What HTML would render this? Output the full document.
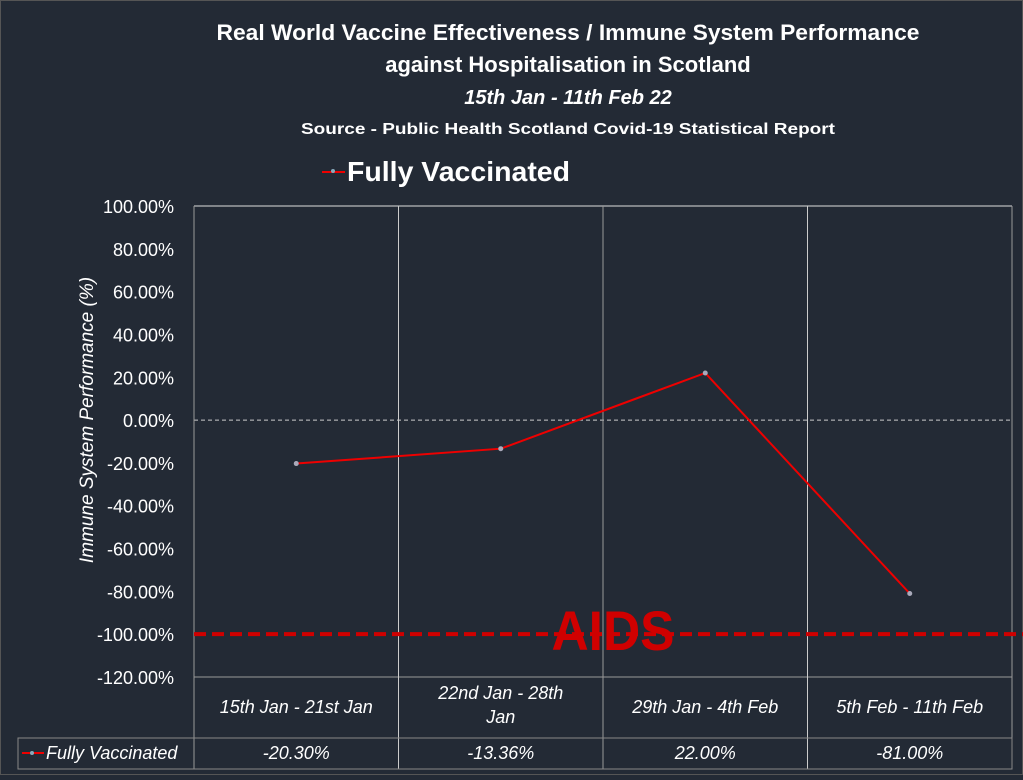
<!DOCTYPE html>
<html><head><meta charset="utf-8"><style>
body{margin:0;background:#232a35;}
svg text{font-family:"Liberation Sans",sans-serif;fill:#fff;}
</style></head><body>
<svg width="1023" height="775" id="c">
<rect x="0.5" y="0.5" width="1022" height="774" fill="#232a35" stroke="#555"/>
<g font-weight="bold" text-anchor="middle">
<text x="568" y="40" font-size="22" textLength="703" lengthAdjust="spacingAndGlyphs">Real World Vaccine Effectiveness / Immune System Performance</text>
<text x="568" y="72" font-size="22">against Hospitalisation in Scotland</text>
<text x="568" y="104" font-size="20" font-style="italic">15th Jan - 11th Feb 22</text>
<text x="568" y="134" font-size="16" textLength="534" lengthAdjust="spacingAndGlyphs">Source - Public Health Scotland Covid-19 Statistical Report</text>
</g>
<g>
<line x1="322" y1="172" x2="345" y2="172" stroke="#e00" stroke-width="2"/>
<circle cx="333" cy="171" r="2" fill="#8ab"/>
<text x="347" y="181" font-size="28" font-weight="bold" textLength="223" lengthAdjust="spacingAndGlyphs">Fully Vaccinated</text>
</g>
<text transform="translate(93,420) rotate(-90)" text-anchor="middle" font-size="19" font-style="italic">Immune System Performance (%)</text>
<g id="grid"></g><g id="marks"></g>
<text x="613" y="650" text-anchor="middle" font-size="56" font-weight="bold" style="fill:#d00000" textLength="123" lengthAdjust="spacingAndGlyphs">AIDS</text>
</svg>
<script>
const categories=["15th Jan - 21st Jan","22nd Jan - 28th Jan","29th Jan - 4th Feb","5th Feb - 11th Feb"];
const values=[-20.30,-13.36,22.00,-81.00];
const valueLabels=["-20.30%","-13.36%","22.00%","-81.00%"];
const yTicks=[100,80,60,40,20,0,-20,-40,-60,-80,-100,-120];
const refLine=-100;
const NS="http://www.w3.org/2000/svg";
const X0=194,X1=1012,YT=206,YB=677;
const cw=(X1-X0)/categories.length;
const y=v=>YT+(100-v)/220*(YB-YT);
const x=i=>X0+cw*(i+0.5);
function mk(t,a,p){const e=document.createElementNS(NS,t);for(const k in a)e.setAttribute(k,a[k]);p.appendChild(e);return e;}
const g=document.getElementById('grid'),m=document.getElementById('marks');
yTicks.forEach(v=>{
 if(v===0){const l=mk('line',{x1:X0,x2:X1,y1:y(v),y2:y(v),stroke:'#ccc','stroke-dasharray':'4 3','stroke-width':1},g);}
 const t=mk('text',{x:174,y:y(v)+7,'text-anchor':'end','font-size':18},g);t.textContent=v.toFixed(2)+'%';
 
 
});
mk('line',{x1:X0,x2:X1,y1:YT,y2:YT,stroke:'#ddd'},g);
mk('line',{x1:X0,x2:X1,y1:YB,y2:YB,stroke:'#999'},g);
for(let i=0;i<=categories.length;i++){mk('line',{x1:X0+cw*i,x2:X0+cw*i,y1:YT,y2:769,stroke:i%2?'#ccc':'#999'},g);}
mk('rect',{x:18,y:738,width:X1-18,height:31,fill:'none',stroke:'#888'},g);
mk('line',{x1:X0,x2:X1,y1:738,y2:738,stroke:'#888'},g);
const lg=mk('g',{},g);


mk('line',{x1:22,y1:753,x2:44,y2:753,stroke:'#e00','stroke-width':2},lg);
mk('circle',{cx:32,cy:753,r:2,fill:'#8ab'},lg);
const lt=mk('text',{x:46,y:759,'font-size':18,'font-style':'italic'},lg);lt.textContent='Fully Vaccinated';
categories.forEach((c,i)=>{
 const t=mk('text',{x:x(i),'text-anchor':'middle','font-size':18,'font-style':'italic'},g);
 
 
 const w=c.split(' ');
 if(c.length>18&&i===1){t.setAttribute('y',699);mk('tspan',{x:x(i),dy:0},t).textContent=w.slice(0,4).join(' ');mk('tspan',{x:x(i),dy:24},t).textContent=w.slice(4).join(' ');}
 else{t.setAttribute('y',713);t.textContent=c;}
 const v=mk('text',{x:x(i),y:759,'text-anchor':'middle','font-size':18,'font-style':'italic'},g);v.textContent=valueLabels[i];
 
 
});
const rl=mk('line',{x1:X0,x2:1023,y1:y(refLine),y2:y(refLine),stroke:'#d00000','stroke-width':4,'stroke-dasharray':'12 6'},m);


const pl=mk('polyline',{points:values.map((v,i)=>x(i)+','+y(v)).join(' '),fill:'none',stroke:'#e00','stroke-width':2},m);


values.forEach((v,i)=>{const c=mk('circle',{cx:x(i),cy:y(v),r:2.5,fill:'#aab'},m);
 
 });
</script>
</body></html>
